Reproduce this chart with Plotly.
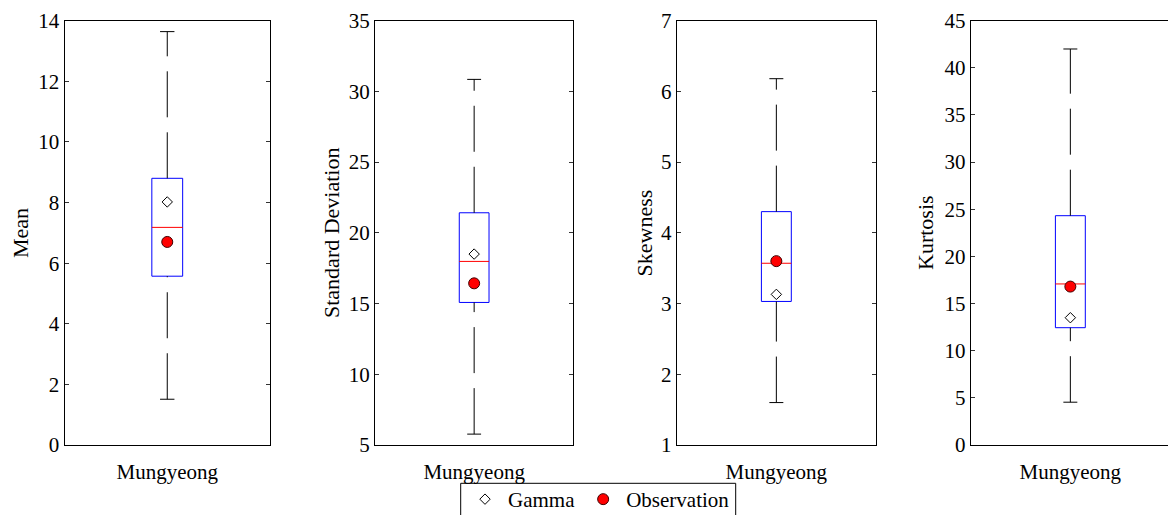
import plotly.graph_objects as go

# ---- data ----
station = "Mungyeong"
stat_names = ["Mean", "Standard Deviation", "Skewness", "Kurtosis"]
whisker_low = [1.51, 5.77, 1.60, 4.54]
q1_vals = [5.57, 15.08, 3.03, 12.44]
median_vals = [7.18, 17.98, 3.57, 17.08]
q3_vals = [8.80, 21.42, 4.30, 24.32]
whisker_high = [13.64, 30.85, 6.18, 42.0]
gamma_vals = [8.02, 18.50, 3.13, 13.50]
obs_vals = [6.70, 16.43, 3.60, 16.80]
y_ranges = [[0, 14], [5, 35], [1, 7], [0, 45]]
y_dticks = [2, 5, 1, 5]

# ---- layout geometry (pixels) ----
W, H = 1168, 515
x_dom_px = [(64.5, 270.0), (375.0, 573.3), (676.7, 876.0), (970.7, 1168.0)]
x_ranges = [[0.5, 1.5], [0.5, 1.5], [0.5, 1.5], [0.5, 0.5 + 197.3 / 199.3]]
y_top_px, y_bot_px = 20.7, 445.0
title_x_px = [20.0, 331.0, 643.5, 925.0]

FONT = "Liberation Serif, Times New Roman, serif"
FS = 21
BOX_HALF = 0.075
CAP_HALF = 0.035
X0 = 1

fig = go.Figure()

for i in range(4):
    ax = "" if i == 0 else str(i + 1)
    xr, yr = "x" + ax, "y" + ax
    # box outline (Q1..Q3)
    fig.add_trace(go.Scatter(
        x=[X0 - BOX_HALF, X0 + BOX_HALF, X0 + BOX_HALF, X0 - BOX_HALF, X0 - BOX_HALF],
        y=[q1_vals[i], q1_vals[i], q3_vals[i], q3_vals[i], q1_vals[i]],
        mode="lines", line=dict(color="#0000FF", width=1),
        xaxis=xr, yaxis=yr, showlegend=False, hoverinfo="skip"))
    # median line
    fig.add_trace(go.Scatter(
        x=[X0 - BOX_HALF, X0 + BOX_HALF], y=[median_vals[i], median_vals[i]],
        mode="lines", line=dict(color="#FF0000", width=1),
        xaxis=xr, yaxis=yr, showlegend=False, hoverinfo="skip"))
    # whiskers (dashed)
    fig.add_trace(go.Scatter(
        x=[X0, X0], y=[q3_vals[i], whisker_high[i]],
        mode="lines", line=dict(color="black", width=1, dash="46px,15px"),
        xaxis=xr, yaxis=yr, showlegend=False, hoverinfo="skip"))
    fig.add_trace(go.Scatter(
        x=[X0, X0], y=[whisker_low[i], q1_vals[i]],
        mode="lines", line=dict(color="black", width=1, dash="46px,15px"),
        xaxis=xr, yaxis=yr, showlegend=False, hoverinfo="skip"))
    # caps
    for v in (whisker_high[i], whisker_low[i]):
        fig.add_trace(go.Scatter(
            x=[X0 - CAP_HALF, X0 + CAP_HALF], y=[v, v],
            mode="lines", line=dict(color="black", width=1),
            xaxis=xr, yaxis=yr, showlegend=False, hoverinfo="skip"))
    # markers
    fig.add_trace(go.Scatter(
        x=[X0], y=[gamma_vals[i]], mode="markers", name="Gamma",
        marker=dict(symbol="diamond-open", size=8, color="black", line=dict(width=1, color="black")),
        xaxis=xr, yaxis=yr, showlegend=(i == 0), legendgroup="g"))
    fig.add_trace(go.Scatter(
        x=[X0], y=[obs_vals[i]], mode="markers", name="Observation",
        marker=dict(symbol="circle", size=11, color="#FF0000", line=dict(width=1, color="#400000")),
        xaxis=xr, yaxis=yr, showlegend=(i == 0), legendgroup="o"))

layout = dict(
    width=W, height=H,
    margin=dict(l=0, r=0, t=0, b=0, autoexpand=False),
    paper_bgcolor="white", plot_bgcolor="white",
    font=dict(family=FONT, size=FS, color="black"),
    showlegend=True,
    legend=dict(orientation="h", x=462.0 / W, xanchor="left",
                y=1 - 479.0 / H, yanchor="top", itemwidth=36,
                borderwidth=0, bgcolor="rgba(0,0,0,0)",
                font=dict(family=FONT, size=FS, color="black")),
    shapes=[dict(type="rect", xref="paper", yref="paper",
                 x0=460.7 / W, x1=735.7 / W, y0=-0.05, y1=1 - 483.3 / H,
                 line=dict(color="black", width=1), fillcolor="rgba(0,0,0,0)", layer="below")],
    annotations=[],
)

for i in range(4):
    ax = "" if i == 0 else str(i + 1)
    xd = [x_dom_px[i][0] / W, x_dom_px[i][1] / W]
    yd = [1 - y_bot_px / H, 1 - y_top_px / H]
    layout["xaxis" + ax] = dict(
        domain=xd, range=x_ranges[i], anchor="y" + ax,
        tickvals=[X0], ticktext=[station], ticks="", ticklabelstandoff=8,
        showline=True, mirror=True, linecolor="black", linewidth=1,
        showgrid=False, zeroline=False, fixedrange=True,
        tickfont=dict(family=FONT, size=FS, color="black"))
    layout["yaxis" + ax] = dict(
        domain=yd, range=y_ranges[i], dtick=y_dticks[i], tick0=0, anchor="x" + ax,
        ticks="inside", ticklen=4, tickcolor="#333333",
        showline=True, mirror=("ticks" if i < 3 else False),
        linecolor="black", linewidth=1,
        showgrid=False, zeroline=False, fixedrange=True,
        tickfont=dict(family=FONT, size=FS, color="black"))
    layout["annotations"].append(dict(
        text=stat_names[i], xref="paper", yref="paper",
        x=title_x_px[i] / W, y=1 - 233 / H, xanchor="center", yanchor="middle",
        textangle=-90, showarrow=False,
        font=dict(family=FONT, size=22, color="black")))

fig.update_layout(**layout)
fig.write_html("out.html")
